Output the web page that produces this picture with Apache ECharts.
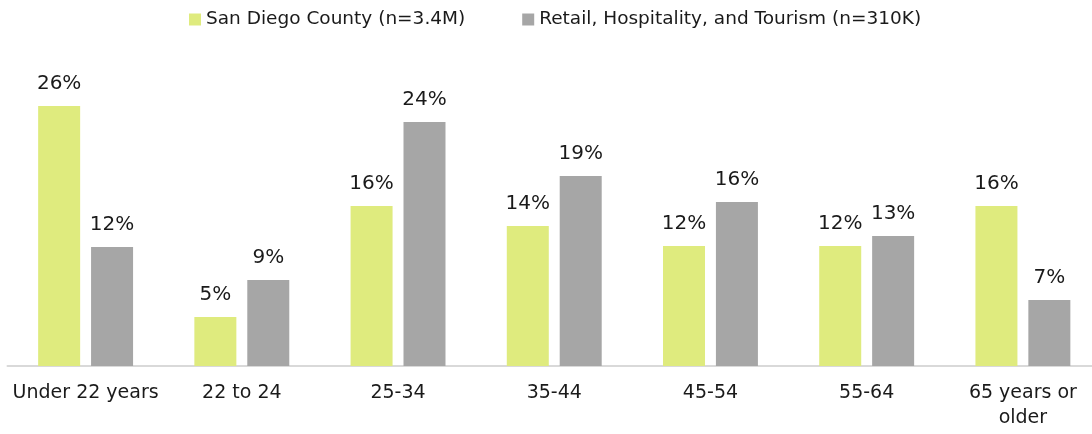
<!DOCTYPE html>
<html>
<head>
<meta charset="utf-8">
<script src="https://cdn.jsdelivr.net/npm/echarts@6/dist/echarts.min.js"></script>
<style>
  html, body { margin: 0; padding: 0; background: #fff; overflow: hidden; }
  /* the plot's last band runs a few pixels past the right edge of the page */
  #chart { width: 1101px; height: 434px; }
</style>
</head>
<body>
<div id="chart"></div>
<script>
// Age groups shown on the x axis
const categories = ['Under 22 years', '22 to 24', '25-34', '35-44', '45-54', '55-64', '65 years or\nolder'];
// Share of workers by age (%)
const sanDiegoCounty = [26.0, 4.9, 16.0, 14.0, 12.0, 12.0, 16.0];
const retailHospTourism = [11.9, 8.6, 24.4, 19.0, 16.4, 13.0, 6.6];
const seriesNames = ['San Diego County (n=3.4M)', 'Retail, Hospitality, and Tourism (n=310K)'];

const FONT = '"DejaVu Sans", sans-serif';
const chart = echarts.init(document.getElementById('chart'), null, { renderer: 'canvas' });

const barLabel = {
  show: true,
  position: 'top',
  distance: 12,
  fontSize: 20,
  fontFamily: FONT,
  color: '#1a1a1a',
  formatter: p => Math.round(p.value) + '%'
};

chart.setOption({
  animation: false,
  backgroundColor: '#ffffff',
  legend: {
    top: 5,
    left: 184,
    itemWidth: 12,
    itemHeight: 12,
    itemGap: 57,
    icon: 'rect',
    textStyle: { fontSize: 18.5, fontFamily: FONT, color: '#1a1a1a' },
    data: seriesNames
  },
  grid: { left: 7.5, right: 0, top: 66, bottom: 68, containLabel: false },
  xAxis: {
    type: 'category',
    data: categories,
    axisLine: { show: true, lineStyle: { color: '#d9d9d9', width: 2 } },
    axisTick: { show: false },
    axisLabel: {
      interval: 0,
      margin: 15,
      fontSize: 19,
      lineHeight: 25,
      fontFamily: FONT,
      color: '#1a1a1a'
    }
  },
  yAxis: {
    type: 'value',
    min: 0,
    max: 30,
    show: false,
    splitLine: { show: false }
  },
  series: [
    {
      name: seriesNames[0],
      type: 'bar',
      data: sanDiegoCounty,
      barWidth: 42,
      barGap: '26%',
      itemStyle: { color: '#dfeb7e' },
      label: barLabel
    },
    {
      name: seriesNames[1],
      type: 'bar',
      data: retailHospTourism,
      barWidth: 42,
      barGap: '26%',
      itemStyle: { color: '#a6a6a6' },
      label: barLabel
    }
  ]
});
</script>
</body>
</html>
